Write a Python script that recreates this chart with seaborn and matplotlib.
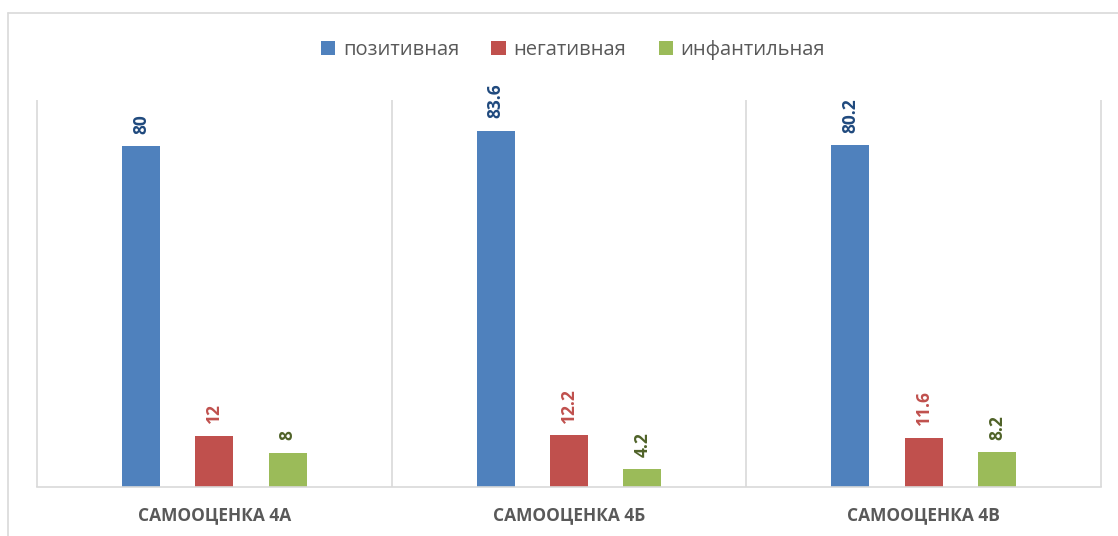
import pandas as pd
import seaborn as sns
from matplotlib import pyplot as plt
from matplotlib.lines import Line2D

categories = ["САМООЦЕНКА 4А", "САМООЦЕНКА 4Б", "САМООЦЕНКА 4В"]
series_names = ["позитивная", "негативная", "инфантильная"]
positive = [80, 83.6, 80.2]
negative = [12, 12.2, 11.6]
infantile = [8, 4.2, 8.2]

bar_colors = ["#4f81bd", "#c0504d", "#9bbb59"]
label_colors = ["#1f497d", "#c0504d", "#4f6228"]
grid_color = "#d9d9d9"

df = pd.DataFrame({
    "category": categories * 3,
    "series": [series_names[0]] * 3 + [series_names[1]] * 3 + [series_names[2]] * 3,
    "value": positive + negative + infantile,
})

sns.set_theme(style="white")
plt.rcParams["font.family"] = ["Open Sans", "DejaVu Sans"]

fig = plt.figure(figsize=(11.18, 5.36), dpi=100)
ax = fig.add_axes([37 / 1118, 1 - 487 / 536, (1101 - 37) / 1118, (487 - 100) / 536])

sns.barplot(
    data=df, x="category", y="value", hue="series",
    palette=bar_colors, saturation=1, width=0.62, gap=0.48, ax=ax,
    edgecolor="none", legend=True,
)

for cont, col in zip(ax.containers, label_colors):
    ax.bar_label(cont, fmt="%g", rotation=90, padding=9,
                 fontsize=12.5, fontweight="bold", color=col)

ax.set_ylim(0, 90.8)
ax.set_xlim(-0.5, 2.5)
ax.set_yticks([])
ax.set_xlabel("")
ax.set_ylabel("")
for s in ["top", "left", "right"]:
    ax.spines[s].set_visible(False)
ax.spines["bottom"].set_color(grid_color)
ax.spines["bottom"].set_linewidth(1.2)
ax.vlines([-0.5, 0.5, 1.5, 2.5], 0, 90.8, color=grid_color, lw=1.2, clip_on=False)
ax.tick_params(axis="x", length=0, pad=14, labelsize=12.5, labelcolor="#595959")
for t in ax.get_xticklabels():
    t.set_fontweight("bold")

ax.legend_.remove()
handles, labels = ax.get_legend_handles_labels()
fig.legend(handles, labels, loc="center", bbox_to_anchor=(573 / 1118, 1 - 50 / 536),
           ncol=3, frameon=False, fontsize=14.5, handlelength=0.7, handleheight=0.7,
           handletextpad=0.4, columnspacing=1.6, labelcolor="#595959")

# outer chart frame
fig.add_artist(Line2D([8 / 1118, 1], [1 - 13 / 536, 1 - 13 / 536], color=grid_color, lw=1.2))
fig.add_artist(Line2D([8 / 1118, 8 / 1118], [0, 1 - 13 / 536], color=grid_color, lw=1.2))

plt.savefig("out.png", dpi=100)
